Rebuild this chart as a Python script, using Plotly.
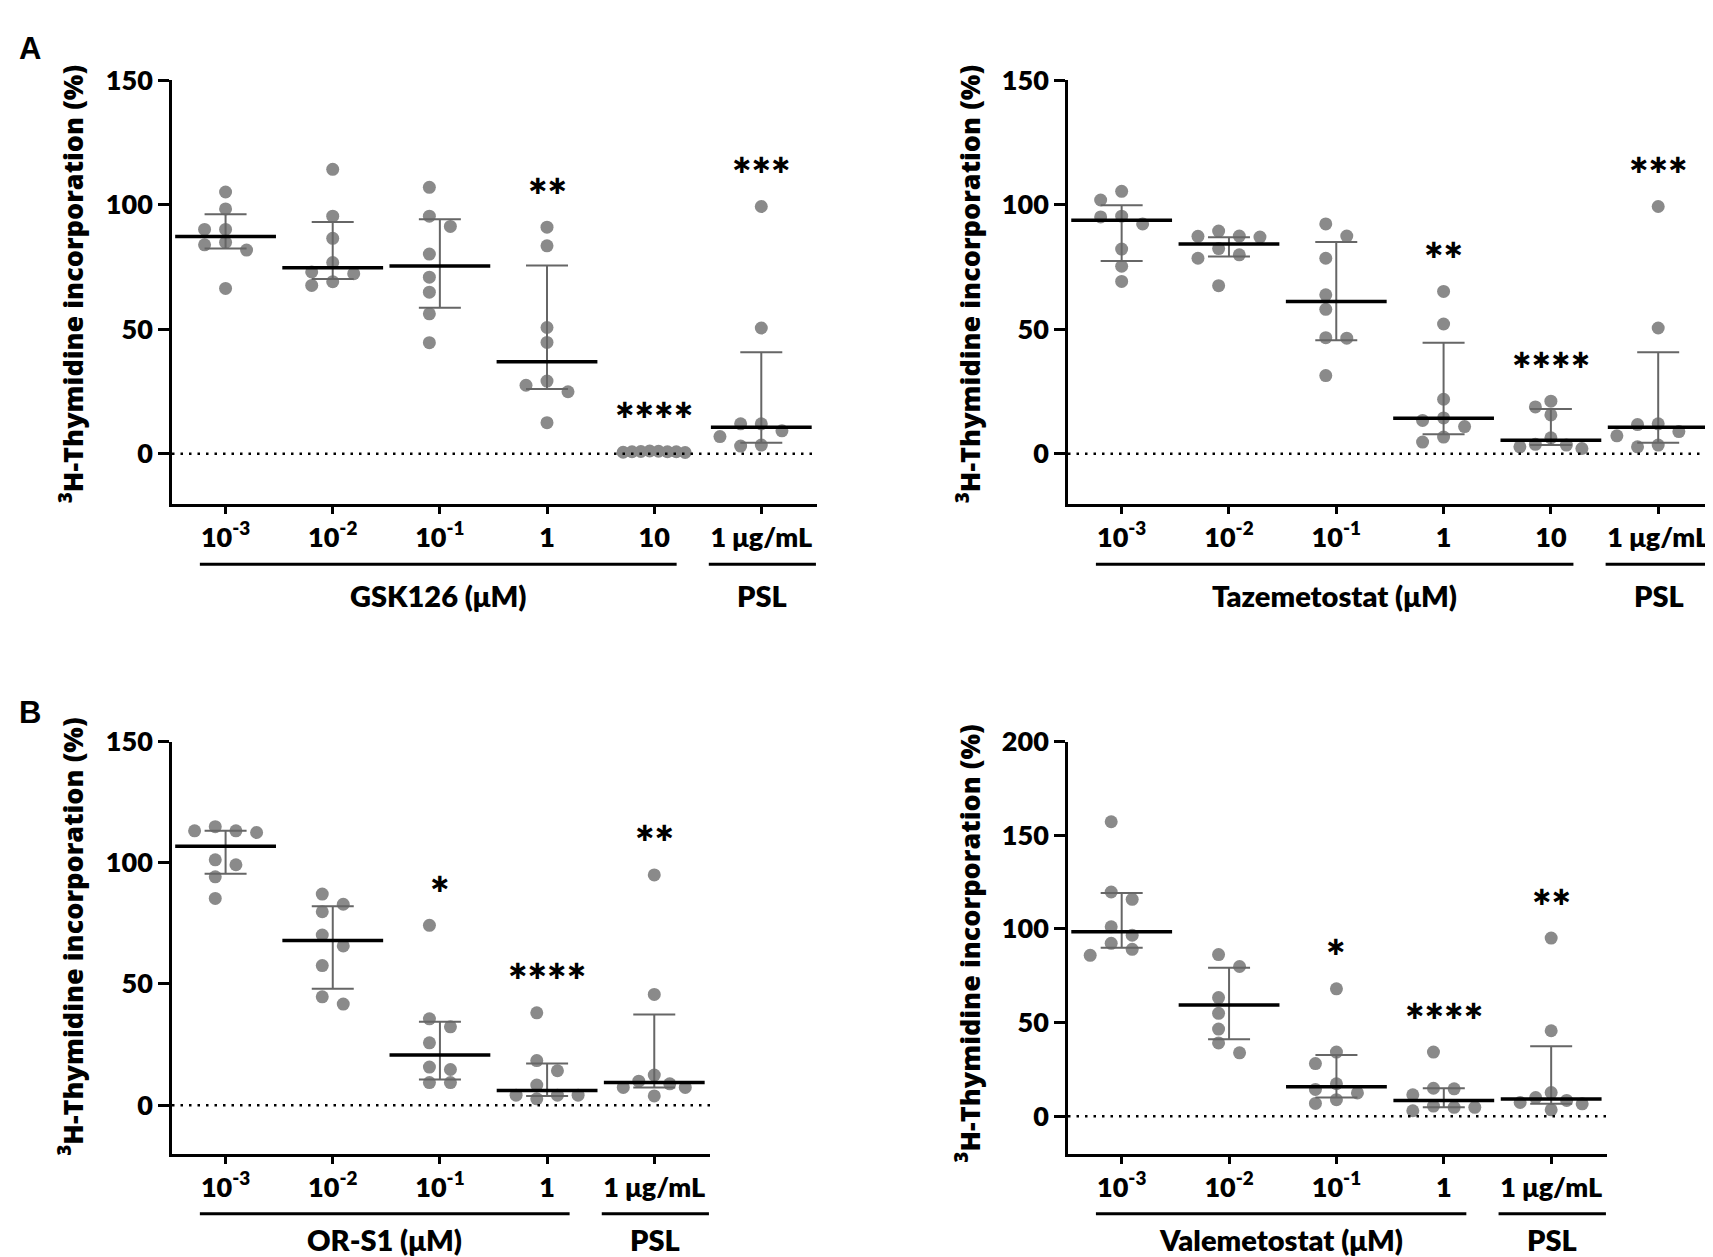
import plotly.graph_objects as go

W, H = 1713, 1257

# ---------------- data ----------------
cats_top = ["10<sup>-3</sup>", "10<sup>-2</sup>", "10<sup>-1</sup>", "1", "10", "1 μg/mL"]
cats_bottom = ["10<sup>-3</sup>", "10<sup>-2</sup>", "10<sup>-1</sup>", "1", "1 μg/mL"]

gsk_points = [
    [105.1, 98.3, 90.1, 90.1, 84.9, 83.9, 81.8, 66.4],
    [114.2, 95.4, 86.5, 76.8, 73.0, 72.3, 69.1, 67.6],
    [107.0, 95.4, 91.3, 80.2, 70.9, 64.9, 56.2, 44.6],
    [91.0, 83.5, 50.7, 44.7, 29.2, 27.5, 24.9, 12.5],
    [0.8, 1.0, 1.1, 0.9, 0.5, 0.8, 0.6, 0.8],
    [99.3, 50.5, 12.0, 12.0, 9.2, 6.9, 3.1, 3.5],
]
gsk_median = [87.2, 74.7, 75.4, 36.9, None, 10.6]
gsk_q1 = [82.4, 70.2, 58.6, 26.0, None, 4.4]
gsk_q3 = [96.2, 93.1, 94.2, 75.6, None, 40.8]
gsk_stars = ["", "", "", "**", "****", "***"]

taz_points = [
    [105.4, 101.9, 95.4, 95.1, 92.3, 82.2, 75.3, 69.2],
    [89.4, 87.3, 87.4, 87.0, 82.4, 79.9, 78.5, 67.5],
    [92.3, 87.4, 78.5, 63.8, 58.0, 46.4, 46.6, 31.4],
    [65.2, 52.1, 21.9, 14.4, 13.4, 10.9, 4.7, 6.7],
    [18.8, 21.1, 15.6, 6.4, 3.5, 2.1, 2.8, 3.8],
    [99.3, 50.5, 11.7, 12.0, 8.9, 7.2, 2.8, 3.5],
]
taz_median = [93.8, 84.2, 61.1, 14.3, 5.4, 10.6]
taz_q1 = [77.4, 79.2, 45.6, 7.8, 3.5, 4.4]
taz_q3 = [99.8, 86.9, 85.0, 44.6, 18.0, 40.8]
taz_stars = ["", "", "", "**", "****", "***"]

ors_points = [
    [114.9, 112.5, 113.2, 113.2, 101.2, 99.2, 94.2, 85.3],
    [87.1, 82.9, 79.8, 70.2, 65.7, 57.6, 44.7, 41.7],
    [74.2, 35.6, 32.3, 25.7, 15.7, 14.7, 9.3, 9.3],
    [38.1, 18.4, 14.2, 8.3, 4.1, 4.1, 4.1, 2.6],
    [95.0, 45.7, 12.4, 9.9, 8.8, 7.3, 7.3, 3.8],
]
ors_median = [106.8, 67.9, 20.7, 6.0, 9.3]
ors_q1 = [95.5, 48.0, 10.6, 3.8, 7.3]
ors_q3 = [113.2, 82.1, 34.4, 17.2, 37.4]
ors_stars = ["", "", "*", "****", "**"]

val_points = [
    [157.2, 119.7, 115.8, 101.1, 96.6, 92.3, 89.1, 85.9],
    [86.3, 79.9, 63.3, 54.9, 46.5, 39.1, 33.8],
    [68.0, 34.2, 28.1, 17.3, 14.3, 12.4, 8.8, 6.8],
    [34.2, 14.9, 14.6, 11.4, 5.4, 4.7, 4.7, 2.9],
    [95.1, 45.6, 12.6, 9.9, 8.4, 7.3, 6.6, 3.4],
]
val_median = [98.5, 59.3, 15.7, 8.4, 9.2]
val_q1 = [89.9, 41.0, 9.9, 4.7, 6.6]
val_q3 = [119.1, 79.2, 32.7, 14.9, 37.3]
val_stars = ["", "", "*", "****", "**"]

y_title = "<sup>3</sup>H-Thymidine incorporation (%)"

# ---------------- layout geometry (pixels) ----------------
panels = [
    dict(points=gsk_points, med=gsk_median, q1=gsk_q1, q3=gsk_q3, stars=gsk_stars, cats=cats_top,
         drug="GSK126 (μM)", box=(164, 809, 55, 484.5), yr=(-20, 150), yt=[0, 50, 100, 150],
         title_x=63, title_y=262, line_y=546, lab_y=578),
    dict(points=taz_points, med=taz_median, q1=taz_q1, q3=taz_q3, stars=taz_stars, cats=cats_top,
         drug="Tazemetostat (μM)", box=(1060, 1706, 55, 484.5), yr=(-20, 150), yt=[0, 50, 100, 150],
         title_x=960, title_y=262, line_y=546, lab_y=578),
    dict(points=ors_points, med=ors_median, q1=ors_q1, q3=ors_q3, stars=ors_stars, cats=cats_bottom,
         drug="OR-S1 (μM)", box=(164, 702, 726, 1144), yr=(-20, 150), yt=[0, 50, 100, 150],
         title_x=63, title_y=924, line_y=1205, lab_y=1231),
    dict(points=val_points, med=val_median, q1=val_q1, q3=val_q3, stars=val_stars, cats=cats_bottom,
         drug="Valemetostat (μM)", box=(1060, 1599, 726, 1144), yr=(-20, 200), yt=[0, 50, 100, 150, 200],
         title_x=960, title_y=931, line_y=1205, lab_y=1231),
]

DOT = "#8a8a8a"
ERR = "#666666"
TICKFONT = dict(family="Lato, Open Sans, sans-serif", size=27, color="black", weight=800)


def swarm(vals, ppu, step_px=21.0, dmin=13.0, maxspan=62.0):
    n = len(vals)
    order = sorted(range(n), key=lambda i: -vals[i])
    rows = []
    for i in order:
        if rows and (vals[rows[-1][0]] - vals[i]) * ppu < 12:
            rows[-1].append(i)
        else:
            rows.append([i])
    m = max(len(r) for r in rows)
    if m % 2 == 0:
        cands = []
        for k in range(12):
            cands += [-(k + 0.5), k + 0.5]
    else:
        cands = [0]
        for k in range(1, 12):
            cands += [-k, k]
    placed = []
    cols = [0] * n
    for i in order:
        y = vals[i] * ppu
        chosen = cands[-1]
        for c in cands:
            if all(not (pc == c and abs(pyv - y) < dmin) for pc, pyv in placed):
                chosen = c
                break
        placed.append((chosen, y))
        cols[i] = chosen
    span = max(cols) - min(cols)
    step = step_px if span == 0 else min(step_px, maxspan / span)
    return [c * step for c in cols]


fig = go.Figure()
shapes = []
annotations = []
layout = {}

for k, p in enumerate(panels):
    sfx = "" if k == 0 else str(k + 1)
    xa, ya = "x" + sfx, "y" + sfx
    x0, x1, y0, y1 = p["box"]
    n = len(p["cats"])
    xr = (-0.5, n - 1 + 0.52)
    ppx = (x1 - x0) / (xr[1] - xr[0])
    ppu = (y1 - y0) / (p["yr"][1] - p["yr"][0])

    xs, ys = [], []
    for ci, vals in enumerate(p["points"]):
        offs = swarm(vals, ppu)
        xs += [ci + o / ppx for o in offs]
        ys += vals
    fig.add_trace(go.Scatter(x=xs, y=ys, mode="markers", xaxis=xa, yaxis=ya,
                             marker=dict(size=13, color=DOT, line=dict(width=0)),
                             showlegend=False, hoverinfo="skip"))

    med = p["med"]
    plus = [None if m is None else q3 - m for m, q3 in zip(med, p["q3"])]
    minus = [None if m is None else m - q1 for m, q1 in zip(med, p["q1"])]
    fig.add_trace(go.Scatter(x=list(range(n)), y=med, mode="markers", xaxis=xa, yaxis=ya,
                             marker=dict(symbol="line-ew", size=72, color="black",
                                         line=dict(width=3.5, color="black")),
                             error_y=dict(type="data", symmetric=False, array=plus, arrayminus=minus,
                                          color=ERR, thickness=2, width=21),
                             showlegend=False, hoverinfo="skip"))

    layout["xaxis" + sfx] = dict(domain=[x0 / W, x1 / W], range=list(xr), anchor=ya,
                                 showline=True, linewidth=2.5, linecolor="black", mirror=False,
                                 ticks="outside", ticklen=8, tickwidth=2.5, tickcolor="black",
                                 tickvals=list(range(n)), ticktext=p["cats"], tickfont=TICKFONT,
                                 showgrid=False, zeroline=False, fixedrange=True)
    layout["yaxis" + sfx] = dict(domain=[1 - y1 / H, 1 - y0 / H], range=list(p["yr"]), anchor=xa,
                                 showline=True, linewidth=2.5, linecolor="black",
                                 ticks="outside", ticklen=11, tickwidth=2.5, tickcolor="black",
                                 tickvals=p["yt"], tickfont=TICKFONT,
                                 showgrid=False, zeroline=False, fixedrange=True)

    # dotted zero line
    shapes.append(dict(type="line", xref=xa, yref=ya, x0=xr[0], x1=xr[1], y0=0, y1=0,
                       line=dict(color="black", width=2.5, dash="2.5px,6px")))

    # significance stars
    for ci, s in enumerate(p["stars"]):
        if s:
            annotations.append(dict(x=ci, y=max(p["points"][ci]), xref=xa, yref=ya, text=s,
                                    showarrow=False, yanchor="middle", yshift=32,
                                    font=dict(family="Lato, sans-serif", size=46, color="black",
                                              weight=800)))

    # group lines and labels
    ly = 1 - p["line_y"] / H
    ty = 1 - p["lab_y"] / H
    ga, gb = -0.24, n - 2 + 0.21
    pa, pb = n - 1 - 0.49, n - 1 + 0.51
    for a, b, lab in [(ga, gb, p["drug"]), (pa, pb, "PSL")]:
        shapes.append(dict(type="line", xref=xa, yref="paper", x0=a, x1=b, y0=ly, y1=ly,
                           line=dict(color="black", width=3)))
        annotations.append(dict(x=(a + b) / 2, y=ty, xref=xa, yref="paper", text=lab,
                                showarrow=False, xanchor="center", yanchor="middle",
                                font=dict(family="Lato, sans-serif", size=29, color="black",
                                          weight=800)))

    # y-axis title
    annotations.append(dict(x=p["title_x"] / W, y=1 - p["title_y"] / H, xref="paper", yref="paper",
                            text=y_title, textangle=-90, showarrow=False,
                            xanchor="center", yanchor="middle",
                            font=dict(family="Open Sans, sans-serif", size=27, color="black",
                                      weight=800)))

# panel letters
for letter, (lx, ly) in [("A", (22, 23)), ("B", (22, 696))]:
    annotations.append(dict(x=lx / W, y=1 - ly / H, xref="paper", yref="paper", text=letter,
                            showarrow=False, xanchor="center", yanchor="middle",
                            font=dict(family="Liberation Sans, Arial, sans-serif", size=31,
                                      color="black", weight="bold")))

fig.update_layout(width=W, height=H, margin=dict(l=0, r=0, t=0, b=0),
                  paper_bgcolor="white", plot_bgcolor="white",
                  shapes=shapes, annotations=annotations, **layout)

fig.write_html("out.html", config={"displayModeBar": False})
